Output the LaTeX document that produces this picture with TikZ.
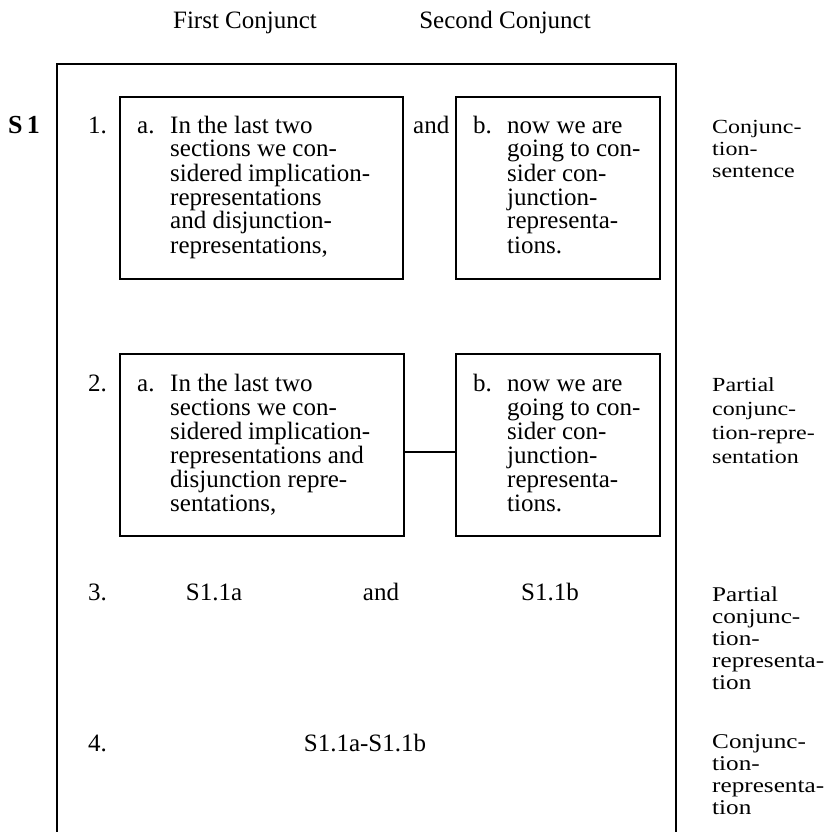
\documentclass[tikz,border=0pt]{standalone}
\usepackage{fontspec}
\setmainfont{Liberation Serif}
\newfontfamily\widefont[FakeStretch=1.2]{Liberation Serif}
\newcommand{\bxfont}{\fontsize{25}{24}\selectfont}
\newcommand{\lbfont}{\fontsize{25}{22}\selectfont}
\newcommand{\rlfont}{\widefont\fontsize{21}{22}\selectfont}
\newcommand{\mlines}[1]{\parbox[t]{200pt}{\raggedright #1}}
\begin{document}
\begin{tikzpicture}[x=1pt,y=-1pt,
  boxst/.style={draw, line width=1.4pt, inner sep=0pt},
  txt/.style={inner sep=0pt, anchor=base west, font=\bxfont},
  lowtxt/.style={inner sep=0pt, anchor=base, font=\lbfont},
  lbl/.style={inner sep=0pt, anchor=base west, font=\lbfont},
  rlbl/.style={inner sep=0pt, anchor=base west, font=\rlfont}]
\useasboundingbox (0,0) rectangle (829,832);
\fill[white] (0,0) rectangle (829,832);
% header
\node[lowtxt] (h1) at (245,29) {First Conjunct};
\node[lowtxt] (h2) at (505,29) {Second Conjunct};
% outer frame
\draw[line width=1.4pt] (57,832) -- (57,64) -- (676,64) -- (676,832);
% S 1
\node[inner sep=0pt, anchor=base west, font=\fontsize{26}{26}\selectfont\bfseries] (s1) at (8,133) {S\,1};
% row 1
\node[txt] (n1) at (88,133) {1.};
\node[boxst, minimum width=283pt, minimum height=182pt] (b1a) at (261.5,188) {};
\node[boxst, minimum width=204pt, minimum height=182pt] (b1b) at (558,188) {};
\node[txt] (l1a) at (137,133) {a.};
\node[txt] (t1a) at (170,133) {\mlines{In the last two\\sections we con-\\sidered implication-\\representations\\and disjunction-\\representations,}};
\node[txt] (and1) at (413,133) {and};
\node[txt] (l1b) at (473,133) {b.};
\node[txt] (t1b) at (507,133) {\mlines{now we are\\going to con-\\sider con-\\junction-\\representa-\\tions.}};
\node[inner sep=0pt, anchor=base west, font=\widefont\fontsize{20}{22}\selectfont] (r1) at (712,133) {\mlines{Conjunc-\\tion-\\sentence}};
% row 2
\node[txt] (n2) at (88,391) {2.};
\node[boxst, minimum width=284pt, minimum height=182pt] (b2a) at (262,445) {};
\node[boxst, minimum width=204pt, minimum height=182pt] (b2b) at (558,445) {};
\node[txt] (l2a) at (137,391) {a.};
\node[txt] (t2a) at (170,391) {\mlines{In the last two\\sections we con-\\sidered implication-\\representations and\\disjunction repre-\\sentations,}};
\node[txt] (l2b) at (473,391) {b.};
\node[txt] (t2b) at (507,391) {\mlines{now we are\\going to con-\\sider con-\\junction-\\representa-\\tions.}};
\draw[line width=1.4pt] ([yshift=-7pt]b2a.east) -- ([yshift=-7pt]b2b.west);
\node[inner sep=0pt, anchor=base west, font=\widefont\fontsize{20}{24}\selectfont] (r2) at (712,391) {\mlines{Partial\\conjunc-\\tion-repre-\\sentation}};
% row 3
\node[lbl] (n3) at (88,600) {3.};
\node[lowtxt] (s3a) at (214,600) {S1.1a};
\node[lowtxt] (and3) at (381,600) {and};
\node[lowtxt] (s3b) at (550,600) {S1.1b};
\node[rlbl] (r3) at (712,601) {\mlines{Partial\\conjunc-\\tion-\\representa-\\tion}};
% row 4
\node[lbl] (n4) at (88,751) {4.};
\node[lowtxt] (s4) at (365,751) {S1.1a-S1.1b};
\node[rlbl] (r4) at (712,748) {\mlines{Conjunc-\\tion-\\representa-\\tion}};
\end{tikzpicture}
\end{document}
